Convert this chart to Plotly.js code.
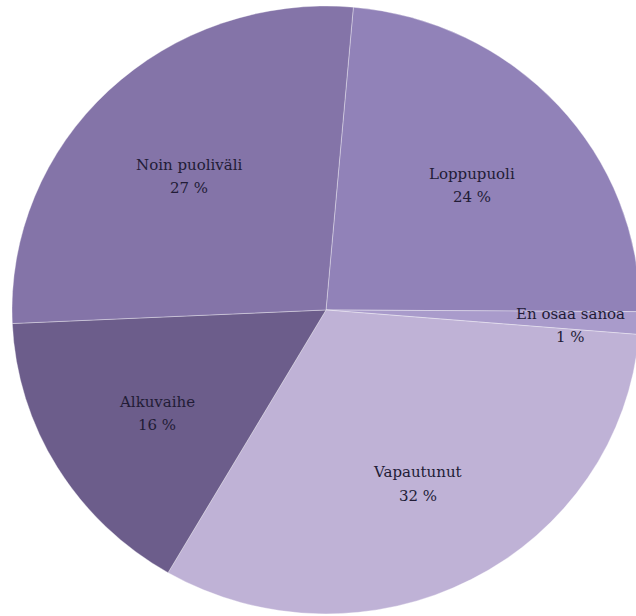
<!DOCTYPE html>
<html>
<head>
<meta charset="utf-8">
<script src="https://cdn.plot.ly/plotly-3.0.1.min.js"></script>
<style>
  html, body { margin: 0; padding: 0; width: 636px; height: 616px; overflow: hidden; background: #ffffff; }
  #chart { position: absolute; left: 12px; top: 6px; width: 628px; height: 628px;
           transform: scaleY(0.968); transform-origin: 0 0; }
</style>
</head>
<body>
<div id="chart"></div>
<script>
// Data (clockwise from the top), share of respondents in %
var categories = ["Loppupuoli", "En osaa sanoa", "Vapautunut", "Alkuvaihe", "Noin puoliväli"];
var values = [23.7, 1.2, 32.1, 15.9, 27.1];
var colors = ["#9182b8", "#a99bcb", "#bfb2d6", "#6c5d8b", "#8474a8"];

var rotation = 5;
var total = values.reduce(function (a, b) { return a + b; }, 0);

// Labels placed along each slice's mid-angle (computed from the data)
var annotations = [];
var cum = 0;
var labelFont = { family: "DejaVu Serif, serif", size: 15, color: "#221c36" };
for (var i = 0; i < values.length; i++) {
  var mid = rotation + 360 * (cum + values[i] / 2) / total;
  cum += values[i];
  var rad = mid * Math.PI / 180;
  var frac = values[i] / total < 0.05 ? 0.78 : 0.63;
  var ax = 0.5 + 0.5 * frac * Math.sin(rad);
  var ay = 0.5 + 0.5 * frac * Math.cos(rad);
  annotations.push({
    xref: "paper", yref: "paper", x: ax, y: ay, yshift: 7,
    text: categories[i], showarrow: false,
    xanchor: "center", yanchor: "middle", font: labelFont
  });
  annotations.push({
    xref: "paper", yref: "paper", x: ax, y: ay, yshift: -17,
    text: Math.round(100 * values[i] / total) + " %", showarrow: false,
    xanchor: "center", yanchor: "middle", font: labelFont
  });
}

var trace = {
  type: "pie",
  labels: categories,
  values: values,
  sort: false,
  direction: "clockwise",
  rotation: rotation,
  textinfo: "none",
  hoverinfo: "label+percent",
  marker: { colors: colors, line: { color: "rgba(255,255,255,0.35)", width: 1 } },
  domain: { x: [0, 1], y: [0, 1] }
};

var layout = {
  width: 628, height: 628,
  margin: { l: 0, r: 0, t: 0, b: 0 },
  showlegend: false,
  paper_bgcolor: "rgba(0,0,0,0)",
  annotations: annotations
};

Plotly.newPlot("chart", [trace], layout, { displayModeBar: false, staticPlot: true });
</script>
</body>
</html>
